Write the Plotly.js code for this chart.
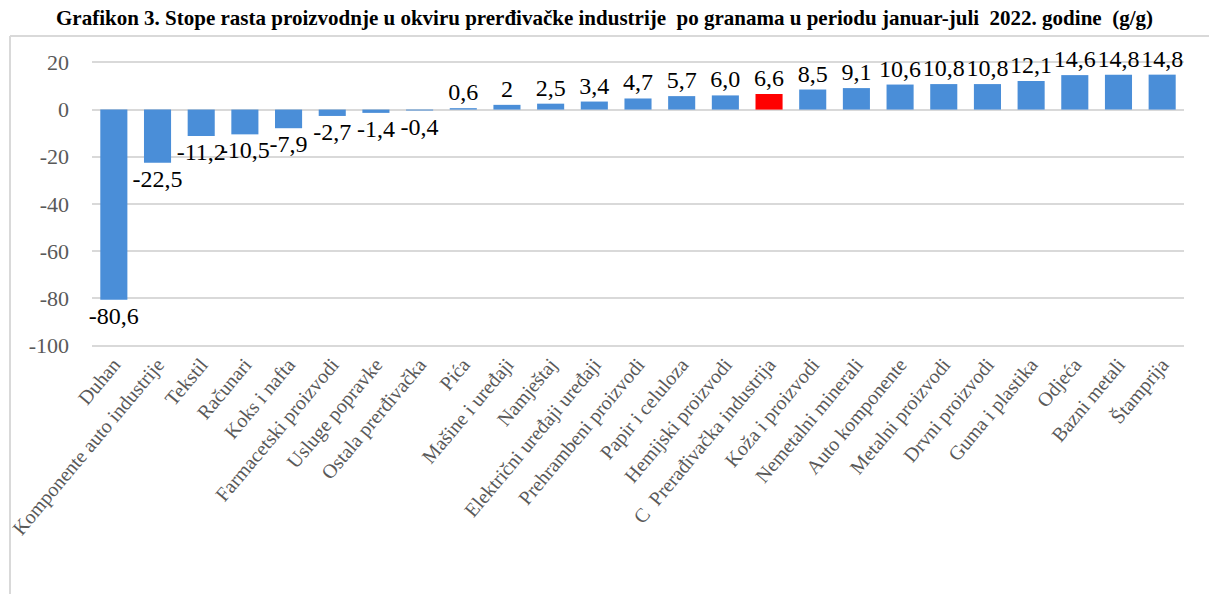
<!DOCTYPE html>
<html>
<head>
<meta charset="utf-8">
<script src="https://cdn.plot.ly/plotly-3.0.1.min.js"></script>
<style>html,body{margin:0;padding:0;background:#fff;}#chart{width:1209px;height:594px;}</style>
</head>
<body>
<div id="chart"></div>
<script>
const categories = ["Duhan","Komponente auto industrije","Tekstil","Računari","Koks i nafta","Farmacetski proizvodi","Usluge popravke","Ostala prerđivačka","Pića","Mašine i uređaji","Namještaj","Električni uređaji uređaji","Prehrambeni proizvodi","Papir i celuloza","Hemijski proizvodi","C  Prerađivačka industrija","Koža i proizvodi","Nemetalni minerali","Auto komponente","Metalni proizvodi","Drvni proizvodi","Guma i plastika","Odjeća","Bazni metali","Štamprija"];
const values = [-80.6,-22.5,-11.2,-10.5,-7.9,-2.7,-1.4,-0.4,0.6,2,2.5,3.4,4.7,5.7,6.0,6.6,8.5,9.1,10.6,10.8,10.8,12.1,14.6,14.8,14.8];
const valueLabels = ["-80,6","-22,5","-11,2","-10,5","-7,9","-2,7","-1,4","-0,4","0,6","2","2,5","3,4","4,7","5,7","6,0","6,6","8,5","9,1","10,6","10,8","10,8","12,1","14,6","14,8","14,8"];
const highlight = "C  Prerađivačka industrija";
const yTicks = [-100,-80,-60,-40,-20,0,20];

const W = 1209, H = 594;
const M = {l: 92, r: 25, t: 60, b: 246};
const SERIF = "Liberation Serif";
const colors = categories.map(c => c === highlight ? "#FF0000" : "#4A8ED8");

const trace = {
  type: "bar",
  x: categories,
  y: values,
  text: valueLabels,
  textposition: "outside",
  constraintext: "none",
  cliponaxis: false,
  textfont: {family: SERIF, size: 24, color: "#000"},
  outsidetextfont: {family: SERIF, size: 24, color: "#000"},
  marker: {color: colors, line: {width: 0}},
  width: 0.62,
  hoverinfo: "x+y"
};

const pw = W - M.l - M.r, ph = H - M.t - M.b;
const px2x = p => (p - M.l) / pw;
const py2y = p => 1 - (p - M.t) / ph;

const layout = {
  width: W, height: H,
  margin: M,
  paper_bgcolor: "#fff", plot_bgcolor: "#fff",
  showlegend: false,
  font: {family: SERIF},
  title: {
    text: "<b>Grafikon 3. Stope rasta proizvodnje u okviru prerđivačke industrije  po granama u periodu januar-juli  2022. godine  (g/g)</b>",
    font: {family: SERIF, size: 21, color: "#000"},
    x: 0.5, xref: "container", xanchor: "center",
    y: 1 - 18 / H, yref: "container", yanchor: "middle"
  },
  xaxis: {
    type: "category",
    tickangle: -50,
    tickfont: {family: SERIF, size: 20, color: "#595959"},
    showgrid: false, showline: false, ticks: "", zeroline: false,
    automargin: false
  },
  yaxis: {
    range: [-101, 21],
    tickvals: yTicks,
    ticktext: yTicks.map(String),
    tickfont: {family: SERIF, size: 22, color: "#595959"},
    showgrid: true, gridcolor: "#D9D9D9", gridwidth: 2,
    zeroline: true, zerolinecolor: "#D9D9D9", zerolinewidth: 2,
    showline: false, ticks: "",
    ticklabelstandoff: 22,
    automargin: false
  },
  shapes: [
    {type: "line", xref: "paper", yref: "paper", x0: px2x(10), x1: px2x(1215), y0: py2y(36), y1: py2y(36), line: {color: "#D9D9D9", width: 2}},
    {type: "line", xref: "paper", yref: "paper", x0: px2x(10), x1: px2x(10), y0: py2y(36), y1: py2y(600), line: {color: "#D9D9D9", width: 2}}
  ]
};

Plotly.newPlot("chart", [trace], layout, {displayModeBar: false, staticPlot: true});
</script>
</body>
</html>
